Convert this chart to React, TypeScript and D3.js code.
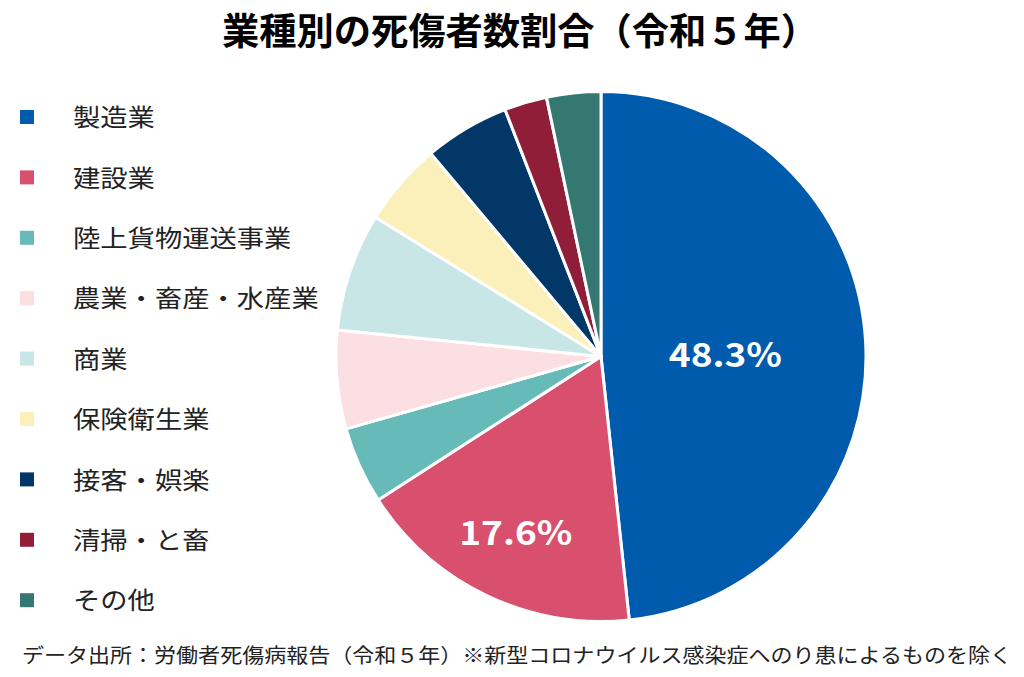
import React, { useRef, useEffect } from "react";
import * as d3 from "d3";

const categories = ["製造業", "建設業", "陸上貨物運送事業", "農業・畜産・水産業", "商業", "保険衛生業", "接客・娯楽", "清掃・と畜", "その他"];
const values = [48.3, 17.6, 4.7, 6.0, 7.2, 5.1, 5.2, 2.6, 3.3];
const colors = ["#005BAC", "#D94F6E", "#66BAB7", "#FCDFE2", "#C8E6E6", "#FBF0B9", "#023768", "#911E39", "#357872"];
const shownLabels = ["48.3%", "17.6%", "", "", "", "", "", "", ""];
const labelRadiusFrac = [0.47, 0.745, 0.7, 0.7, 0.7, 0.7, 0.7, 0.7, 0.7];
const labelShiftY = [5, -1.5, 0, 0, 0, 0, 0, 0, 0];

const W = 1024, H = 677;
const FONT = "'Noto Sans CJK JP', 'Noto Sans', sans-serif";

export default function App() {
  const ref = useRef<SVGSVGElement>(null);
  useEffect(() => {
    const svg = d3.select(ref.current);
    svg.selectAll("*").remove();
    svg.append("rect").attr("width", W).attr("height", H).attr("fill", "#fff");

    svg.append("text").attr("x", 222).attr("y", 45)
      .attr("font-family", FONT).attr("font-weight", 700).attr("font-size", 37).attr("fill", "#000")
      .attr("textLength", 596).attr("lengthAdjust", "spacingAndGlyphs")
      .text("業種別の死傷者数割合（令和５年）");

    const cx = 601, cy = 356.5, r = 265;
    const pie = d3.pie<number>().sort(null).value(d => d);
    const arcs = pie(values);
    const arc = d3.arc<d3.PieArcDatum<number>>().innerRadius(0).outerRadius(r);
    const g = svg.append("g").attr("transform", `translate(${cx},${cy})`);
    g.selectAll("path").data(arcs).join("path")
      .attr("d", arc as any).attr("fill", (_, i) => colors[i])
      .attr("stroke", "#fff").attr("stroke-width", 3).attr("stroke-linejoin", "round");

    g.selectAll("text.lbl").data(arcs).join("text").attr("class", "lbl")
      .attr("transform", (d, i) => {
        const a = (d.startAngle + d.endAngle) / 2;
        const rr = r * labelRadiusFrac[i];
        return `translate(${rr * Math.sin(a)},${-rr * Math.cos(a) + labelShiftY[i]})`;
      })
      .attr("text-anchor", "middle").attr("dy", "0.36em")
      .attr("font-family", FONT).attr("font-weight", 700).attr("font-size", 33).attr("fill", "#fff")
      .attr("textLength", (_, i) => shownLabels[i] ? 113 : null)
      .attr("lengthAdjust", "spacingAndGlyphs")
      .text((_, i) => shownLabels[i]);

    const lg = svg.append("g");
    categories.forEach((c, i) => {
      const y = 117 + i * 60.4;
      lg.append("rect").attr("x", 20).attr("y", y - 7).attr("width", 14).attr("height", 14).attr("fill", colors[i]);
      lg.append("text").attr("x", 73).attr("y", y).attr("dy", "0.38em")
        .attr("font-family", FONT).attr("font-size", 24).attr("fill", "#222")
        .attr("textLength", c.length * 27.3).attr("lengthAdjust", "spacingAndGlyphs")
        .text(c);
    });

    svg.append("text").attr("x", 22).attr("y", 663)
      .attr("font-family", FONT).attr("font-size", 20).attr("fill", "#222")
      .attr("textLength", 990).attr("lengthAdjust", "spacingAndGlyphs")
      .text("データ出所：労働者死傷病報告（令和５年）※新型コロナウイルス感染症へのり患によるものを除く");
  }, []);
  return <svg ref={ref} width={W} height={H} style={{ display: "block", position: "absolute", left: 0, top: 0 }} />;
}
